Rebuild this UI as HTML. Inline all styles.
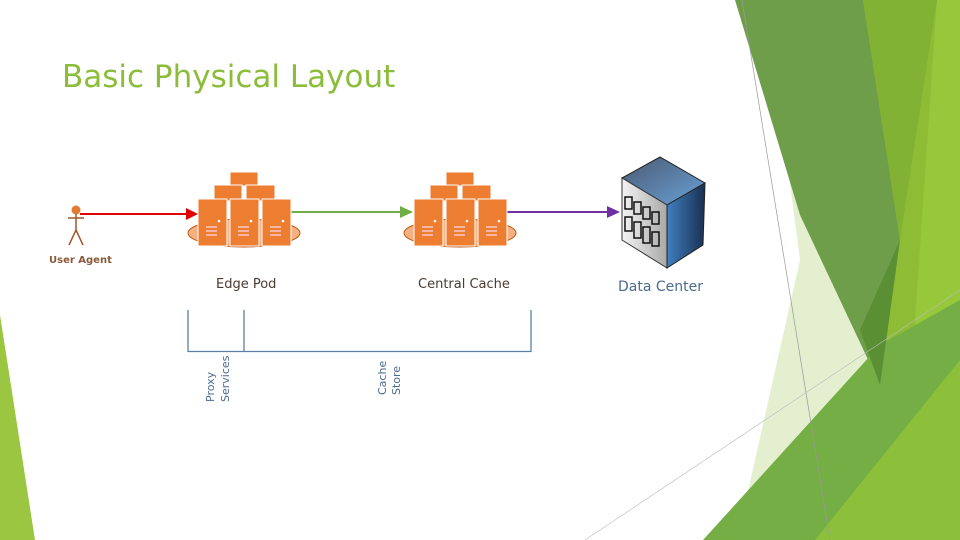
<!DOCTYPE html>
<html><head><style>
html,body{margin:0;padding:0;background:#fff;}
svg{display:block}
text{font-family:"DejaVu Sans","Liberation Sans",sans-serif}
</style></head><body>
<svg width="960" height="540" viewBox="0 0 960 540" xmlns="http://www.w3.org/2000/svg">
<defs>
<linearGradient id="dcside" x1="0" x2="1"><stop offset="0" stop-color="#3f7fc0"/><stop offset="1" stop-color="#1a2f50"/></linearGradient>
<linearGradient id="dctop" x1="0" y1="0" x2="1" y2="1"><stop offset="0" stop-color="#4a5a70"/><stop offset="1" stop-color="#6aa0d8"/></linearGradient>
<linearGradient id="dcfront" x1="0" x2="1"><stop offset="0" stop-color="#f4f4f4"/><stop offset="1" stop-color="#a8a8a8"/></linearGradient>
</defs>
<polygon points="0,315 35,540 0,540" fill="#9bc642"/>
<polygon points="863,0 960,0 960,540 820,540" fill="#8ebd35"/>
<polygon points="937,0 960,0 960,540 900,540" fill="#97c83c"/>
<polygon points="783,130 880,385 830,540 737,540 800,260" fill="#e3efcf"/>
<polygon points="735,0 863,0 900,240 880,385 800,215" fill="#6f9e4b"/>
<polygon points="863,0 937,0 900,240" fill="#82b233"/>
<polygon points="703,540 880,345 960,300 960,540" fill="#74ae45"/>
<polygon points="815,540 960,360 960,540" fill="#8dc03a"/>
<polygon points="860,330 900,240 880,385" fill="#5a8f34"/>
<line x1="742" y1="0" x2="830" y2="540" stroke="#999" stroke-width="0.7"/>
<line x1="585" y1="540" x2="960" y2="290" stroke="#bbb" stroke-width="0.6"/>
<text x="62" y="87" font-size="31" fill="#8bbd3a">Basic Physical Layout</text>
<circle cx="76" cy="210" r="4.5" fill="#e07b30"/>
<line x1="76" y1="214" x2="76" y2="230" stroke="#a0582a" stroke-width="1.5"/>
<line x1="68" y1="218" x2="84" y2="218" stroke="#a0582a" stroke-width="1.5"/>
<polyline points="69,245 76,230 83,245" fill="none" stroke="#a0582a" stroke-width="1.5"/>
<text x="49" y="263" font-size="10" font-weight="bold" fill="#8a5a3a">User Agent</text>
<line x1="80" y1="214" x2="190" y2="214" stroke="#e00000" stroke-width="2"/>
<polygon points="186,208 198,214 186,220" fill="#e00000"/>
<line x1="290" y1="212" x2="404" y2="212" stroke="#70ad47" stroke-width="2"/>
<polygon points="400,206 413,212 400,218" fill="#70ad47"/>
<line x1="505" y1="212" x2="610" y2="212" stroke="#7030a0" stroke-width="2"/>
<polygon points="607,206 620,212 607,218" fill="#7030a0"/>
<g id="pod">
<ellipse cx="244" cy="233" rx="56" ry="14" fill="#f4b183" stroke="#c55a11" stroke-width="1"/>
<rect x="230" y="172" width="28" height="14" fill="#ed7d31" stroke="#fff" stroke-width="1"/>
<rect x="214" y="185" width="28" height="16" fill="#ed7d31" stroke="#fff" stroke-width="1"/>
<rect x="246" y="185" width="29" height="16" fill="#ed7d31" stroke="#fff" stroke-width="1"/>
<rect x="198" y="199" width="29" height="47" fill="#ed7d31" stroke="#fff" stroke-width="1"/>
<rect x="230" y="199" width="29" height="47" fill="#ed7d31" stroke="#fff" stroke-width="1"/>
<rect x="262" y="199" width="29" height="47" fill="#ed7d31" stroke="#fff" stroke-width="1"/>
<g stroke="#fde" stroke-width="1.2">
<line x1="206" y1="227" x2="217" y2="227"/><line x1="206" y1="231" x2="217" y2="231"/><line x1="206" y1="235" x2="217" y2="235"/>
<line x1="238" y1="227" x2="249" y2="227"/><line x1="238" y1="231" x2="249" y2="231"/><line x1="238" y1="235" x2="249" y2="235"/>
<line x1="270" y1="227" x2="281" y2="227"/><line x1="270" y1="231" x2="281" y2="231"/><line x1="270" y1="235" x2="281" y2="235"/>
</g>
<circle cx="219" cy="221" r="1.3" fill="#fff"/><circle cx="251" cy="221" r="1.3" fill="#fff"/><circle cx="283" cy="221" r="1.3" fill="#fff"/>
</g>
<use href="#pod" x="216" y="0"/>
<text x="216" y="288" font-size="13" fill="#4a3a30">Edge Pod</text>
<text x="418" y="288" font-size="13" fill="#4a3a30">Central Cache</text>
<polygon points="622,178 660,157 705,183 667,205" fill="url(#dctop)" stroke="#222" stroke-width="1"/>
<polygon points="622,178 667,205 667,268 622,240" fill="url(#dcfront)" stroke="#333" stroke-width="1"/>
<polygon points="667,205 705,183 703,245 667,268" fill="url(#dcside)" stroke="#222" stroke-width="1"/>
<g fill="none" stroke="#111" stroke-width="1.5">
<rect x="625" y="197" width="7" height="12"/><rect x="634" y="202" width="7" height="12"/><rect x="643" y="207" width="7" height="12"/><rect x="652" y="212" width="7" height="12"/>
<rect x="625" y="217" width="7" height="14"/><rect x="634" y="222" width="7" height="16"/><rect x="643" y="227" width="7" height="16"/><rect x="652" y="232" width="7" height="14"/>
</g>
<text x="618" y="291" font-size="14" fill="#4a6a8e">Data Center</text>
<g stroke="#5b7fa6" stroke-width="1.3" fill="none">
<line x1="188" y1="310" x2="188" y2="352"/>
<line x1="244" y1="310" x2="244" y2="352"/>
<line x1="531" y1="310" x2="531" y2="352"/>
<line x1="188" y1="351.5" x2="531" y2="351.5"/>
</g>
<text transform="translate(214,402) rotate(-90)" font-size="11" fill="#4a6a8e">Proxy</text>
<text transform="translate(229,402) rotate(-90)" font-size="11" fill="#4a6a8e">Services</text>
<text transform="translate(386,395) rotate(-90)" font-size="11" fill="#4a6a8e">Cache</text>
<text transform="translate(400,395) rotate(-90)" font-size="11" fill="#4a6a8e">Store</text>
</svg>
</body></html>
